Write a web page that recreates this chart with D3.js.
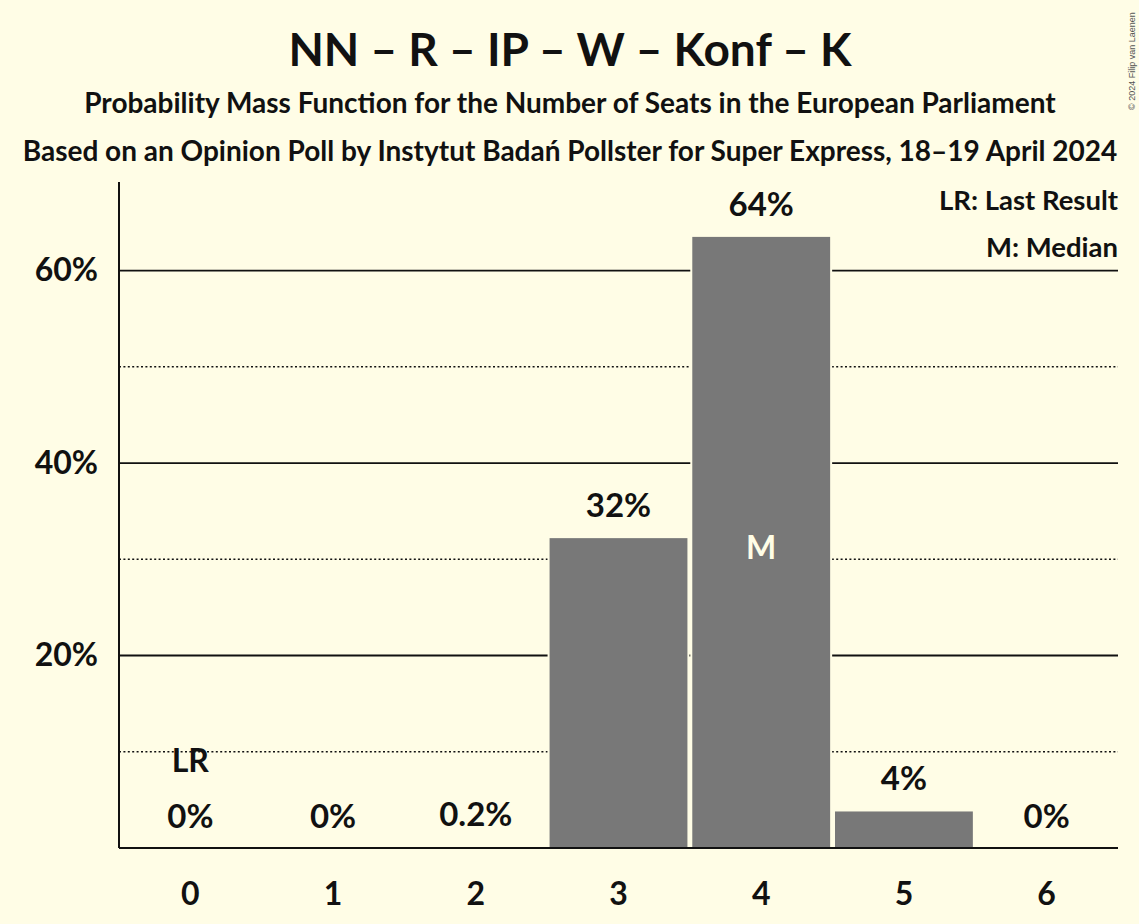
<!DOCTYPE html>
<html>
<head>
<meta charset="utf-8">
<script src="https://cdn.jsdelivr.net/npm/d3@7"></script>
<style>
  body { margin: 0; background: #FFFDE6; }
  svg { display: block; font-family: Lato, 'Noto Sans', sans-serif; font-weight: bold; }
</style>
</head>
<body>
<svg width="1139" height="924"></svg>
<script>
// data
const seats = [0, 1, 2, 3, 4, 5, 6];
const probs = [0, 0, 0.002, 0.323, 0.636, 0.039, 0];
const valueLabels = ['0%', '0%', '0.2%', '32%', '64%', '4%', '0%'];
const solidTicks = [0.2, 0.4, 0.6];
const dottedTicks = [0.1, 0.3, 0.5];
const lastResult = 0;
const median = 4;

const svg = d3.select('svg');
const width = +svg.attr('width');
const height = +svg.attr('height');
const bg = '#FFFDE6';
const ink = '#111111';

const margin = { top: 182, right: 21, bottom: 76, left: 119 };
const plotLeft = margin.left;
const plotRight = width - margin.right;
const plotTop = margin.top;
const plotBottom = height - margin.bottom;

const data = seats.map((s, i) => ({ seat: s, p: probs[i], label: valueLabels[i] }));

const xScale = d3.scaleBand()
    .domain(seats)
    .range([plotLeft, plotRight])
    .paddingInner(0.02)
    .paddingOuter(0.01);

const yScale = d3.scaleLinear()
    .domain([0, 0.692])
    .range([plotBottom, plotTop]);

const xMid = d => xScale(d) + xScale.bandwidth() / 2;

svg.append('rect').attr('width', width).attr('height', height).attr('fill', bg);

//* gridlines
svg.selectAll('.grid-solid').data(solidTicks)
    .enter().append('line')
    .attr('x1', plotLeft).attr('x2', plotRight)
    .attr('y1', d => yScale(d)).attr('y2', d => yScale(d))
    .attr('stroke', ink).attr('stroke-width', 1.8);

svg.selectAll('.grid-dot').data(dottedTicks)
    .enter().append('line')
    .attr('x1', plotLeft).attr('x2', plotRight)
    .attr('y1', d => yScale(d)).attr('y2', d => yScale(d))
    .attr('stroke', ink).attr('stroke-width', 1.5)
    .attr('stroke-dasharray', '2,2.4');

//* bars (background-coloured outline leaves a small gap round the gridlines)
svg.selectAll('.bar').data(data)
    .enter().append('rect')
    .attr('x', d => xScale(d.seat))
    .attr('y', d => yScale(d.p))
    .attr('width', xScale.bandwidth())
    .attr('height', d => plotBottom - yScale(d.p))
    .attr('fill', '#787878')
    .attr('stroke', bg)
    .attr('stroke-width', 2);

//* y axis
const yAxis = d3.axisLeft(yScale)
    .tickValues(solidTicks)
    .tickFormat(d3.format('.0%'))
    .tickSize(0)
    .tickPadding(21);

const yAxisG = svg.append('g')
    .attr('transform', `translate(${plotLeft},0)`)
    .call(yAxis);
yAxisG.select('.domain').remove();
yAxisG.selectAll('text')
    .style('font-size', '32px')
    .style('font-family', 'Lato, sans-serif')
    .style('font-weight', 'bold')
    .attr('fill', ink);

svg.append('line')
    .attr('x1', plotLeft).attr('x2', plotLeft)
    .attr('y1', plotTop).attr('y2', plotBottom)
    .attr('stroke', ink).attr('stroke-width', 2);

//* x axis
const xAxis = d3.axisBottom(xScale)
    .tickSize(0)
    .tickPadding(34);

const xAxisG = svg.append('g')
    .attr('transform', `translate(0,${plotBottom})`)
    .call(xAxis);
xAxisG.select('.domain').remove();
xAxisG.selectAll('text')
    .style('font-size', '32px')
    .style('font-family', 'Lato, sans-serif')
    .style('font-weight', 'bold')
    .attr('fill', ink);

svg.append('line')
    .attr('x1', plotLeft).attr('x2', plotRight)
    .attr('y1', plotBottom).attr('y2', plotBottom)
    .attr('stroke', ink).attr('stroke-width', 2);

//* value labels
svg.selectAll('.vlab').data(data)
    .enter().append('text')
    .attr('x', d => xMid(d.seat))
    .attr('y', d => yScale(d.p) - 20)
    .attr('text-anchor', 'middle')
    .style('font-size', '33px')
    .attr('fill', ink)
    .text(d => d.label);

//* LR marker
svg.append('text')
    .attr('x', xMid(lastResult))
    .attr('y', yScale(probs[lastResult]) - 76)
    .attr('text-anchor', 'middle')
    .style('font-size', '32px')
    .attr('fill', ink)
    .text('LR');

//* median marker
svg.append('text')
    .attr('x', xMid(median))
    .attr('y', yScale(0.3))
    .attr('text-anchor', 'middle')
    .style('font-size', '32px')
    .attr('fill', bg)
    .text('M');

//* legend
svg.append('text')
    .attr('x', plotRight).attr('y', 210)
    .attr('text-anchor', 'end')
    .style('font-size', '27.5px')
    .attr('fill', ink)
    .text('LR: Last Result');

svg.append('text')
    .attr('x', plotRight).attr('y', 257)
    .attr('text-anchor', 'end')
    .style('font-size', '27.5px')
    .attr('fill', ink)
    .text('M: Median');

//* titles
svg.append('text')
    .attr('x', 570).attr('y', 66)
    .attr('text-anchor', 'middle')
    .style('font-size', '46px')
    .attr('fill', ink)
    .text('NN – R – IP – W – Konf – K');

svg.append('text')
    .attr('x', 570).attr('y', 113)
    .attr('text-anchor', 'middle')
    .style('font-size', '28px')
    .attr('fill', ink)
    .text('Probability Mass Function for the Number of Seats in the European Parliament');

svg.append('text')
    .attr('x', 570).attr('y', 161)
    .attr('text-anchor', 'middle')
    .style('font-size', '28px')
    .attr('fill', ink)
    .text('Based on an Opinion Poll by Instytut Badań Pollster for Super Express, 18–19 April 2024');

//* copyright
svg.append('text')
    .attr('transform', 'translate(1135,110) rotate(-90)')
    .style('font-size', '9px')
    .style('font-family', "'Liberation Sans', Arial, sans-serif")
    .style('font-weight', 'normal')
    .attr('fill', '#555')
    .text('© 2024 Filip van Laenen');
</script>
</body>
</html>
